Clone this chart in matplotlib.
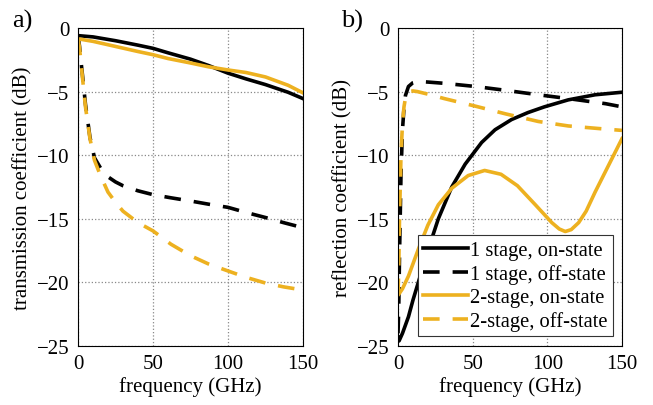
import numpy as np
import matplotlib
matplotlib.use("Agg")
import matplotlib.pyplot as plt

plt.rcParams['font.family'] = ['Liberation Serif', 'DejaVu Serif']

# colours
black = '#000000'
orange = '#EDB120'

# a) transmission coefficient
f_t = [0, 10, 25, 40, 50, 60, 75, 87, 100, 112, 125, 140, 150]
s21_1on = [-0.6, -0.7, -1.0, -1.35, -1.6, -1.95, -2.45, -2.95, -3.55, -4.0, -4.45, -5.05, -5.55]
s21_2on = [-0.85, -1.05, -1.45, -1.85, -2.1, -2.4, -2.75, -3.05, -3.3, -3.5, -3.85, -4.5, -5.1]

f_toff = [0, 1, 2, 3, 5, 8, 11, 15, 20, 25, 30, 40, 50, 62, 75, 87, 100, 112, 125, 137, 150]
s21_1off = [-0.6, -1.4, -2.6, -3.7, -6.0, -8.6, -10.2, -11.0, -11.7, -12.1, -12.4, -12.8, -13.1, -13.35, -13.6, -13.85, -14.1, -14.5, -14.9, -15.3, -15.7]
s21_2off = [-0.85, -1.5, -2.7, -3.9, -6.2, -8.7, -10.4, -11.6, -12.9, -13.7, -14.4, -15.3, -15.95, -17.0, -17.9, -18.55, -19.1, -19.6, -20.05, -20.35, -20.6]

# b) reflection coefficient
f_r = [0, 0.7, 3, 7, 10, 13.6, 20, 27, 36, 45, 56, 65, 76, 87, 98, 114, 132, 150]
s11_1on = [-24.3, -24.6, -24.0, -22.7, -21.4, -20.0, -17.5, -15.0, -12.5, -10.7, -9.0, -8.0, -7.2, -6.65, -6.2, -5.65, -5.25, -5.05]

f_r2 = [0, 0.7, 3, 7, 13.6, 20, 27, 36, 47, 58, 69, 80, 92, 103, 108, 112, 116, 121, 126, 132, 141, 150]
s11_2on = [-21.0, -20.9, -20.5, -19.5, -17.4, -15.5, -13.9, -12.6, -11.6, -11.2, -11.5, -12.4, -13.9, -15.3, -15.8, -16.0, -15.85, -15.3, -14.4, -12.9, -10.8, -8.7]

f_roff = [0, 0.5, 1, 2, 3, 4, 5, 7, 10, 13, 20, 31, 52, 72, 94, 114, 139, 150]
s11_1off = [-24.0, -22.0, -18.0, -11.5, -8.0, -6.3, -5.3, -4.6, -4.3, -4.2, -4.25, -4.35, -4.6, -4.9, -5.25, -5.55, -5.95, -6.2]
s11_2off = [-21.0, -19.0, -15.0, -10.0, -7.5, -6.2, -5.5, -5.0, -4.95, -5.0, -5.2, -5.55, -6.15, -6.75, -7.35, -7.7, -7.95, -8.05]

labels = ['1 stage, on-state', '1 stage, off-state', '2-stage, on-state', '2-stage, off-state']

fig = plt.figure(figsize=(6.53, 4.06), dpi=100)
ax1 = fig.add_axes([0.1194, 0.1453, 0.3446, 0.7833])
ax2 = fig.add_axes([0.6095, 0.1453, 0.3430, 0.7833])

lw = 2.6
dash = (4.6, 3.6)

ax1.plot(f_t, s21_1on, color=black, lw=lw)
ax1.plot(f_toff, s21_1off, color=black, lw=lw, dashes=dash)
ax1.plot(f_t, s21_2on, color=orange, lw=lw)
ax1.plot(f_toff, s21_2off, color=orange, lw=lw, dashes=dash)

ax2.plot(f_r, s11_1on, color=black, lw=lw, label=labels[0])
ax2.plot(f_roff, s11_1off, color=black, lw=lw, dashes=dash, label=labels[1])
ax2.plot(f_r2, s11_2on, color=orange, lw=lw, label=labels[2])
ax2.plot(f_roff, s11_2off, color=orange, lw=lw, dashes=dash, label=labels[3])

for ax, yl in [(ax1, 'transmission coefficient (dB)'), (ax2, 'reflection coefficient (dB)')]:
    ax.set_xlim(0, 150)
    ax.set_ylim(-25, 0)
    ax.set_xticks([0, 50, 100, 150])
    ax.set_yticks([-25, -20, -15, -10, -5, 0])
    ax.set_yticklabels(['\u221225', '\u221220', '\u221215', '\u221210', '\u22125', '0'])
    ax.grid(True, linestyle=':', color='#888888', linewidth=0.9)
    ax.tick_params(length=0, labelsize=15, pad=6)
    for s in ax.spines.values():
        s.set_linewidth(0.8)
    ax.set_xlabel('frequency (GHz)', fontsize=15, labelpad=2)
    ax.set_ylabel(yl, fontsize=15, labelpad=3)

leg = ax2.legend(loc='lower right', bbox_to_anchor=(0.96, 0.03), fontsize=14.8,
                 frameon=True, fancybox=False, edgecolor='#333333', framealpha=1,
                 handlelength=2.2, handletextpad=0.1, borderpad=0.25, labelspacing=0.2,
                 borderaxespad=0)
leg.get_frame().set_linewidth(0.8)

fig.text(0.018, 0.933, 'a)', fontsize=19)
fig.text(0.522, 0.933, 'b)', fontsize=19)

fig.savefig('out.png', dpi=100)
